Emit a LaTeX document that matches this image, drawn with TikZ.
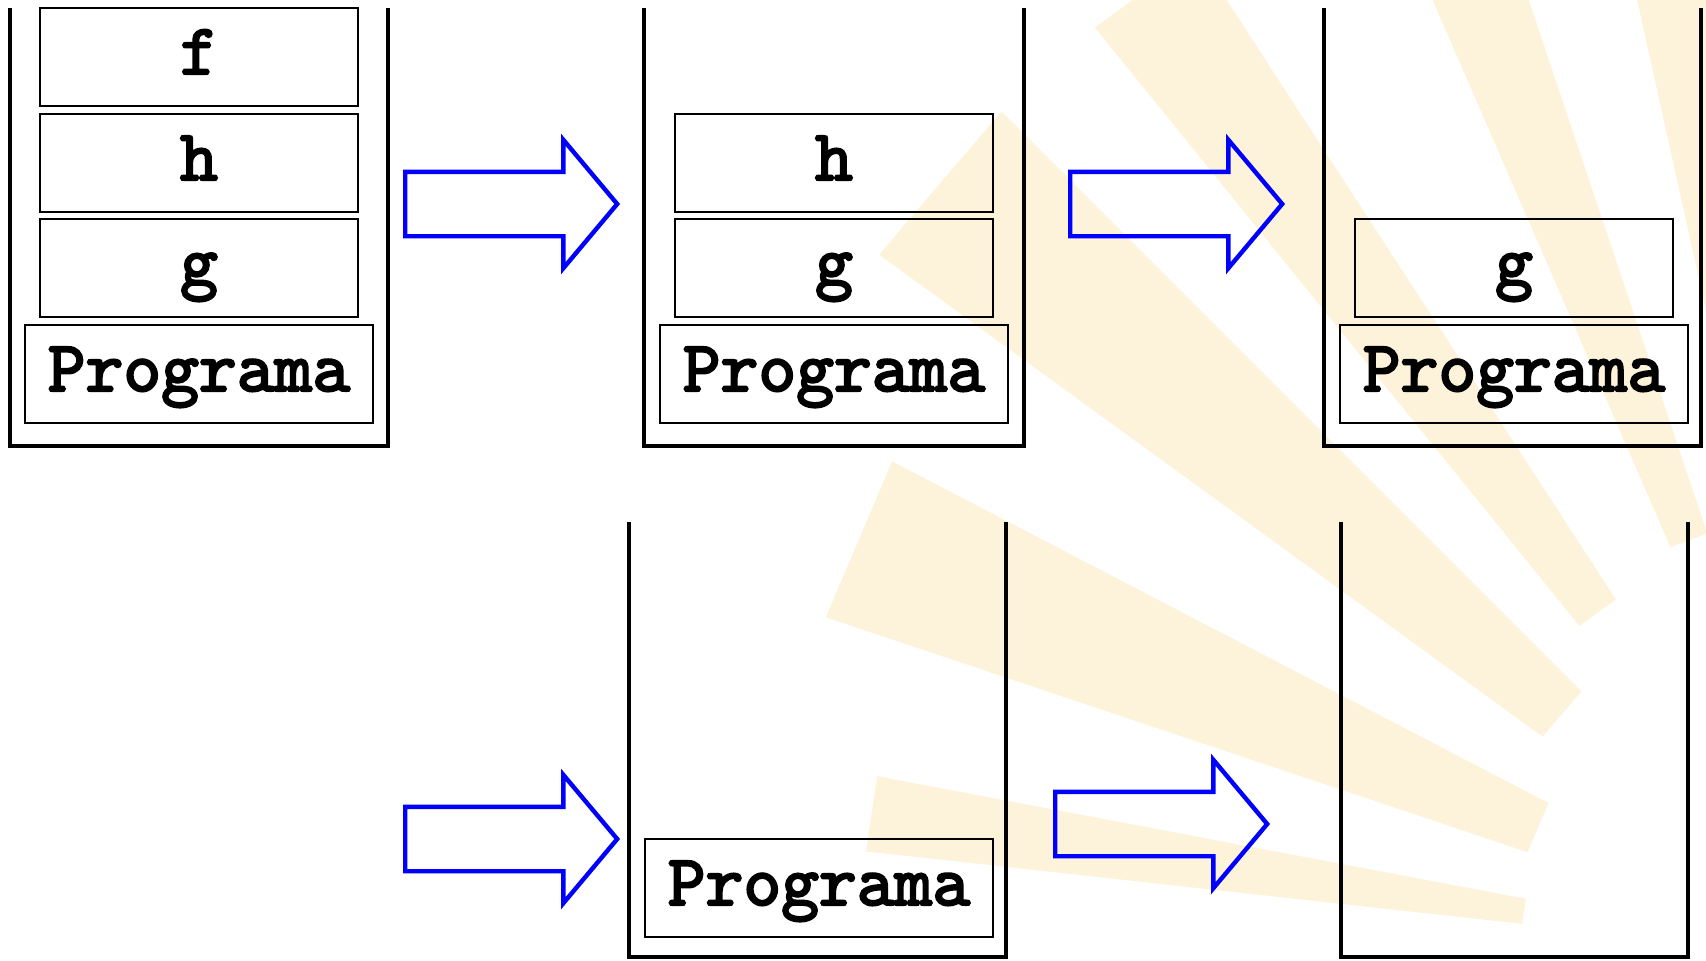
\documentclass[tikz,border=0pt]{standalone}
\usepackage{fontspec}
\newfontfamily\codefont{lmmono10-regular.otf}[FakeBold=3]
\usetikzlibrary{shapes.arrows}
\definecolor{sunray}{RGB}{253,242,218}

\begin{document}
\begin{tikzpicture}[x=0.5pt,y=-0.5pt,
  callbox/.style={shape=rectangle,draw=black,align=center,line width=1pt,minimum width=159pt,minimum height=49pt,inner sep=0pt,text height=21pt,text depth=4pt,font=\codefont\fontsize{36}{40}\selectfont},
  basebox/.style={callbox,minimum width=174pt},
  stackwall/.style={draw=black,line width=2pt},
  pusharrow/.style={single arrow,draw=blue,line width=2.2pt,minimum height=106pt,minimum width=1pt,inner xsep=0pt,inner ysep=15pt,single arrow head extend=16pt,single arrow tip angle=100,anchor=tail}]
\useasboundingbox (0,0) rectangle (1706,960);

\begin{scope}
\clip (0,0) rectangle (1706,960);
\foreach \a/\w/\ri/\ro in {188.5/2.2/330/990, 203/4.5/340/1080, 220.5/4.5/380/1200, 234/3/430/1200, 249/2.5/450/1200, 260/2.5/460/1100}
  \fill[sunray,shift={(1850,960)}] ({\a-\w}:\ri) -- ({\a-\w}:\ro) -- ({\a+\w}:\ro) -- ({\a+\w}:\ri) -- cycle;
\end{scope}

\draw[stackwall] (10,8) -- (10,446) -- (388,446) -- (388,8);
\draw[stackwall] (644,8) -- (644,446) -- (1024,446) -- (1024,8);
\draw[stackwall] (1324,8) -- (1324,446) -- (1701,446) -- (1701,8);
\draw[stackwall] (629,522) -- (629,957) -- (1006,957) -- (1006,522);
\draw[stackwall] (1341,522) -- (1341,957) -- (1688,957) -- (1688,522);

\node[callbox] (f1) at (199,57) {f};
\node[callbox] (h1) at (199,163) {h};
\node[callbox] (g1) at (199,268) {g};
\node[basebox] (p1) at (199,374) {Programa};

\node[callbox] (h2) at (834,163) {h};
\node[callbox] (g2) at (834,268) {g};
\node[basebox] (p2) at (834,374) {Programa};

\node[callbox] (g3) at (1514,268) {g};
\node[basebox] (p3) at (1514,374) {Programa};

\node[basebox] (p4) at (819,888) {Programa};

\node[pusharrow] (a1) at (403,204) {};
\node[pusharrow] (a2) at (1068,204) {};
\node[pusharrow] (a3) at (403,839) {};
\node[pusharrow] (a4) at (1053,824) {};
\end{tikzpicture}
\end{document}
